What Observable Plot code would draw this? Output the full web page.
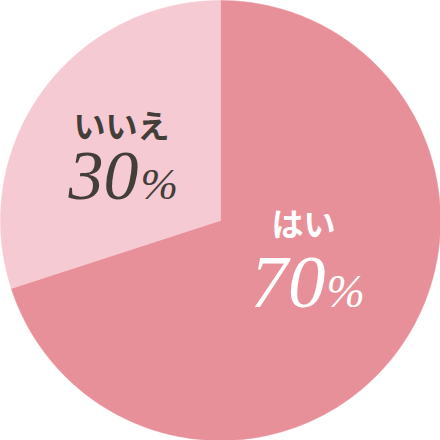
<!DOCTYPE html>
<html>
<head>
<meta charset="utf-8">
<script src="https://cdn.jsdelivr.net/npm/d3@7"></script>
<script src="https://cdn.jsdelivr.net/npm/@observablehq/plot@0.6"></script>
<style>
  html, body { margin: 0; padding: 0; background: #fff; }
  #chart { width: 440px; height: 440px; }
</style>
</head>
<body>
<div id="chart"></div>
<script>
// Data
const categories = ["はい", "いいえ"];
const values = [70, 30];
const valueLabels = ["70", "30"];
const colors = ["#e8909a", "#f6cad3"];
const textColors = ["#ffffff", "#433e3a"];

// Pie layout (start at 12 o'clock, clockwise)
const pie = d3.pie().sort(null).value(d => d.value);
const arcs = pie(categories.map((c, i) => ({category: c, value: values[i], label: valueLabels[i], i})));

// Slice outlines sampled along the circle
const slicePts = [];
for (const a of arcs) {
  slicePts.push({category: a.data.category, x: 0, y: 0});
  const n = 240;
  for (let k = 0; k <= n; k++) {
    const t = a.startAngle + (a.endAngle - a.startAngle) * k / n;
    slicePts.push({category: a.data.category, x: Math.sin(t), y: Math.cos(t)});
  }
  slicePts.push({category: a.data.category, x: 0, y: 0});
}

// Label anchors at half radius on the mid angle
const labels = arcs.map(a => {
  const m = (a.startAngle + a.endAngle) / 2;
  return {category: a.data.category, label: a.data.label, i: a.data.i, x: 0.5 * Math.sin(m), y: 0.5 * Math.cos(m)};
});

// styling offsets (pixels) per slice
const catOff = [[-6, -59], [-10, -28]];
const numOff = [[16, 22], [7, 43]];
const pctOff = [[17, 22], [9, 43]];
const numSize = [75, 70];
const pctSize = [46, 45];

const marks = [
  Plot.line(slicePts, {x: "x", y: "y", z: "category", fill: "category", stroke: "category", strokeWidth: 0.5, curve: "linear"})
];
labels.forEach(l => {
  marks.push(Plot.text([l], {x: "x", y: "y", text: "category", fill: textColors[l.i],
    fontSize: 32, fontWeight: "bold", fontFamily: "'Noto Sans CJK JP', sans-serif",
    textAnchor: "middle", lineAnchor: "middle", dx: catOff[l.i][0], dy: catOff[l.i][1]}));
  marks.push(Plot.text([l], {x: "x", y: "y", text: "label", fill: textColors[l.i],
    fontSize: numSize[l.i], fontStyle: "italic", fontFamily: "'Liberation Serif', serif",
    textAnchor: "end", lineAnchor: "bottom", dx: numOff[l.i][0], dy: numOff[l.i][1]}));
  marks.push(Plot.text([l], {x: "x", y: "y", text: () => "%", fill: textColors[l.i],
    fontSize: pctSize[l.i], fontStyle: "italic", fontFamily: "'Liberation Serif', serif",
    textAnchor: "start", lineAnchor: "bottom", dx: pctOff[l.i][0], dy: pctOff[l.i][1]}));
});

const chart = Plot.plot({
  width: 440,
  height: 440,
  margin: 0,
  x: {domain: [-1, 1], axis: null},
  y: {domain: [-1, 1], axis: null},
  color: {domain: categories, range: colors},
  style: {background: "#fff", overflow: "visible"},
  marks
});
document.getElementById("chart").appendChild(chart);
</script>
</body>
</html>
